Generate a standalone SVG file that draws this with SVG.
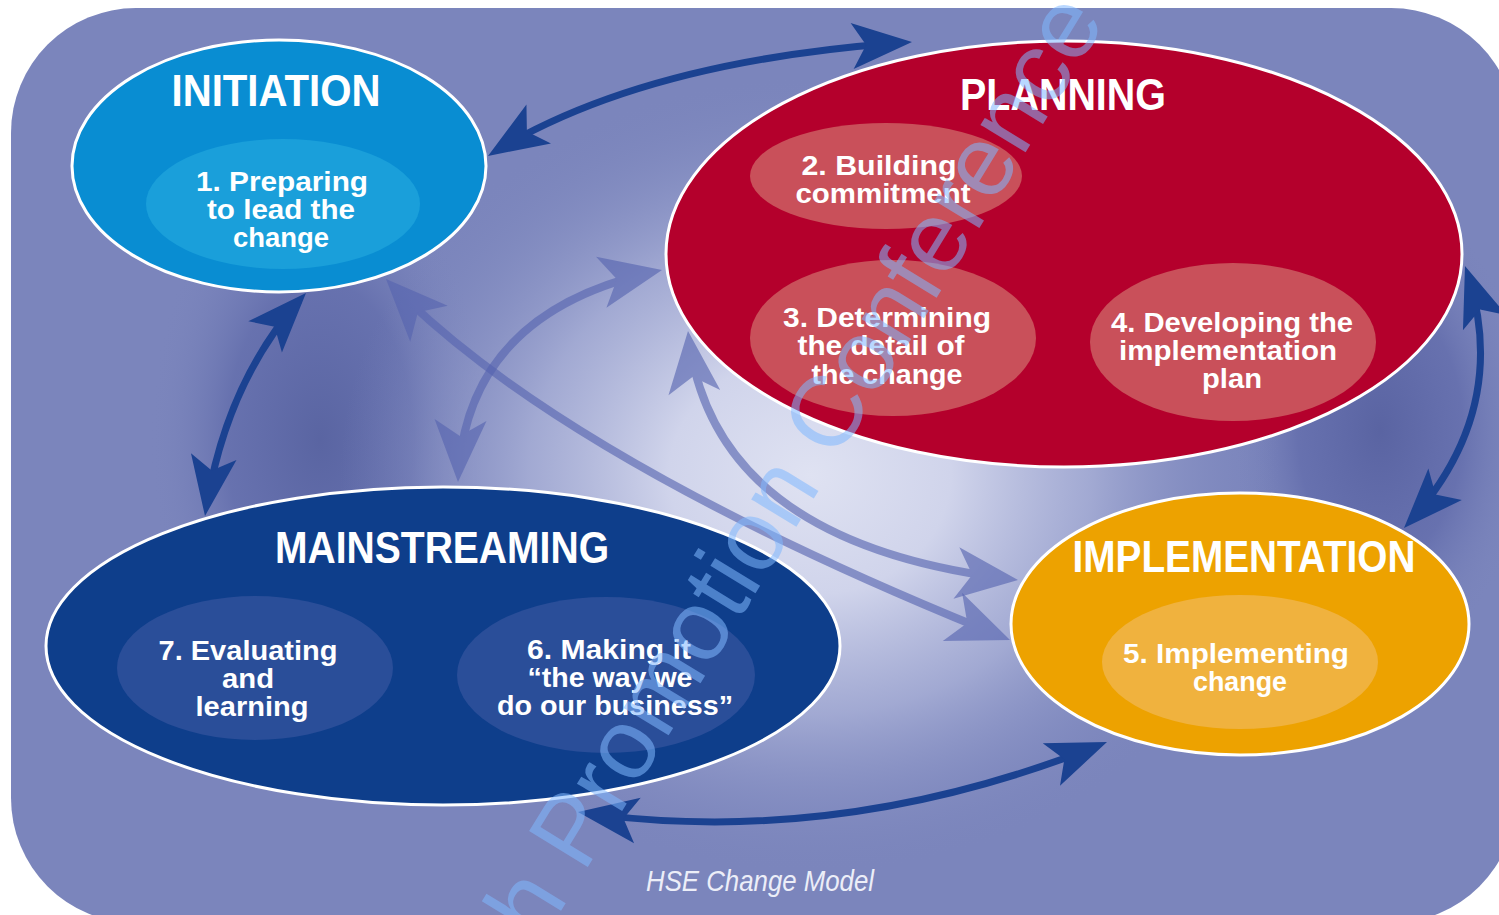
<svg xmlns="http://www.w3.org/2000/svg" width="1499" height="915" viewBox="0 0 1499 915">
  <defs>
    <radialGradient id="lightSpot" gradientUnits="userSpaceOnUse" cx="810" cy="475" r="470" gradientTransform="translate(810 475) scale(1 0.85) translate(-810 -475)">
      <stop offset="0" stop-color="#dfe2f2" stop-opacity="1"/>
      <stop offset="0.3" stop-color="#d0d4eb" stop-opacity="1"/>
      <stop offset="0.6" stop-color="#abb2d8" stop-opacity="0.8"/>
      <stop offset="1" stop-color="#7b85bc" stop-opacity="0"/>
    </radialGradient>
    <radialGradient id="darkLeft" gradientUnits="userSpaceOnUse" cx="320" cy="440" r="170" gradientTransform="translate(320 440) scale(1 1.7) translate(-320 -440)">
      <stop offset="0" stop-color="#56619f" stop-opacity="0.9"/>
      <stop offset="0.55" stop-color="#5a65a6" stop-opacity="0.6"/>
      <stop offset="1" stop-color="#7b85bc" stop-opacity="0"/>
    </radialGradient>
    <radialGradient id="darkRight" gradientUnits="userSpaceOnUse" cx="1380" cy="430" r="150" gradientTransform="translate(1380 430) scale(1 1.6) translate(-1380 -430)">
      <stop offset="0" stop-color="#56609f" stop-opacity="0.9"/>
      <stop offset="0.55" stop-color="#5a64a6" stop-opacity="0.6"/>
      <stop offset="1" stop-color="#7b85bc" stop-opacity="0"/>
    </radialGradient>
    <clipPath id="bgClip">
      <rect x="11" y="8" width="1505" height="915" rx="125" ry="125"/>
    </clipPath>
    <marker id="headDark" markerUnits="userSpaceOnUse" orient="auto-start-reverse" viewBox="-70 -35 80 70" markerWidth="80" markerHeight="70" refX="0" refY="0">
      <path d="M0,0 L-60,-23 L-46,0 L-60,23 Z" fill="#1b4291"/>
    </marker>
    <marker id="headLight" markerUnits="userSpaceOnUse" orient="auto-start-reverse" viewBox="-70 -35 80 70" markerWidth="80" markerHeight="70" refX="0" refY="0">
      <path d="M0,0 L-62,-26 L-46,0 L-62,26 Z" fill="#5664b0"/>
    </marker>
    <style>
      .outer { stroke: #ffffff; stroke-width: 3; }
      .t { font-family: "Liberation Sans", Arial, sans-serif; font-weight: bold; fill: #ffffff; text-anchor: middle; }
      .title { font-size: 44px; }
      .body { font-size: 28px; }
      .dark { fill: none; stroke: #1b4291; stroke-width: 7; marker-start: url(#headDark); marker-end: url(#headDark); }
      .light { fill: none; stroke: #5664b0; stroke-width: 8; opacity: 0.62; marker-start: url(#headLight); marker-end: url(#headLight); }
      .caption { font-family: "Liberation Sans", Arial, sans-serif; font-style: italic; font-size: 30px; fill: #eceef8; text-anchor: middle; }
      .watermark { font-family: "Liberation Sans", Arial, sans-serif; font-size: 100px; fill: #80b8ff; opacity: 0.55; }
    </style>
  </defs>

  <rect x="0" y="0" width="1499" height="915" fill="#ffffff"/>
  <g id="background" clip-path="url(#bgClip)">
    <rect x="11" y="8" width="1505" height="915" fill="#7b85bc"/>
    <rect x="11" y="8" width="1505" height="915" fill="url(#darkLeft)"/>
    <rect x="11" y="8" width="1505" height="915" fill="url(#darkRight)"/>
    <rect x="11" y="8" width="1505" height="915" fill="url(#lightSpot)"/>
  </g>

  <g id="initiation">
    <ellipse class="outer" cx="279" cy="166" rx="207" ry="126" fill="#098dd2"/>
    <ellipse cx="283" cy="204" rx="137" ry="65" fill="#1a9fda"/>
    <text class="t title" x="276" y="106" textLength="209" lengthAdjust="spacingAndGlyphs">INITIATION</text>
    <text class="t body" x="282" y="191" textLength="172" lengthAdjust="spacingAndGlyphs">1. Preparing</text>
    <text class="t body" x="281" y="219" textLength="148" lengthAdjust="spacingAndGlyphs">to lead the</text>
    <text class="t body" x="281" y="247" textLength="96" lengthAdjust="spacingAndGlyphs">change</text>
  </g>

  <g id="planning">
    <ellipse class="outer" cx="1064" cy="254" rx="398" ry="213" fill="#b4002c"/>
    <ellipse cx="886" cy="176" rx="136" ry="53" fill="#c9505a"/>
    <ellipse cx="893" cy="338" rx="143" ry="78" fill="#c9505a"/>
    <ellipse cx="1233" cy="342" rx="143" ry="79" fill="#c9505a"/>
    <text class="t title" x="1063" y="110" textLength="206" lengthAdjust="spacingAndGlyphs">PLANNING</text>
    <text class="t body" x="879" y="175" textLength="155" lengthAdjust="spacingAndGlyphs">2. Building</text>
    <text class="t body" x="883" y="203" textLength="175" lengthAdjust="spacingAndGlyphs">commitment</text>
    <text class="t body" x="887" y="327" textLength="208" lengthAdjust="spacingAndGlyphs">3. Determining</text>
    <text class="t body" x="881" y="355" textLength="167" lengthAdjust="spacingAndGlyphs">the detail of</text>
    <text class="t body" x="887" y="384" textLength="151" lengthAdjust="spacingAndGlyphs">the change</text>
    <text class="t body" x="1232" y="332" textLength="242" lengthAdjust="spacingAndGlyphs">4. Developing the</text>
    <text class="t body" x="1228" y="360" textLength="218" lengthAdjust="spacingAndGlyphs">implementation</text>
    <text class="t body" x="1232" y="388" textLength="60" lengthAdjust="spacingAndGlyphs">plan</text>
  </g>

  <g id="mainstreaming">
    <ellipse class="outer" cx="443" cy="646" rx="397" ry="159" fill="#0e3e8b"/>
    <ellipse cx="255" cy="668" rx="138" ry="72" fill="#2a4e99"/>
    <ellipse cx="606" cy="675" rx="149" ry="78" fill="#2a4e99"/>
    <text class="t title" x="442" y="563" textLength="334" lengthAdjust="spacingAndGlyphs">MAINSTREAMING</text>
    <text class="t body" x="248" y="660" textLength="179" lengthAdjust="spacingAndGlyphs">7. Evaluating</text>
    <text class="t body" x="248" y="688" textLength="52" lengthAdjust="spacingAndGlyphs">and</text>
    <text class="t body" x="252" y="716" textLength="113" lengthAdjust="spacingAndGlyphs">learning</text>
    <text class="t body" x="609" y="659" textLength="164" lengthAdjust="spacingAndGlyphs">6. Making it</text>
    <text class="t body" x="610" y="687" textLength="165" lengthAdjust="spacingAndGlyphs">“the way we</text>
    <text class="t body" x="615" y="715" textLength="236" lengthAdjust="spacingAndGlyphs">do our business”</text>
  </g>

  <g id="implementation">
    <ellipse class="outer" cx="1240" cy="624" rx="229" ry="131" fill="#eda200"/>
    <ellipse cx="1240" cy="662" rx="138" ry="67" fill="#f0b23e"/>
    <text class="t title" x="1244" y="572" textLength="343" lengthAdjust="spacingAndGlyphs">IMPLEMENTATION</text>
    <text class="t body" x="1236" y="663" textLength="226" lengthAdjust="spacingAndGlyphs">5. Implementing</text>
    <text class="t body" x="1240" y="691" textLength="94" lengthAdjust="spacingAndGlyphs">change</text>
  </g>

  <g id="connectors">
    <path class="dark" pathLength="100" stroke-dasharray="0 4 92 4" d="M 488,156 Q 640,60 912,42"/>
    <path class="dark" pathLength="100" stroke-dasharray="0 4 92 4" d="M 306,293 Q 225,380 205,516"/>
    <path class="dark" pathLength="100" stroke-dasharray="0 4 92 4" d="M 1465,266 Q 1515,410 1404,528"/>
    <path class="dark" pathLength="100" stroke-dasharray="0 4 92 4" d="M 578,812 Q 840,850 1107,742"/>
    <path class="light" pathLength="100" stroke-dasharray="0 4 92 4" d="M 386,279 Q 560,460 1010,640"/>
    <path class="light" pathLength="100" stroke-dasharray="0 4 92 4" d="M 662,270 Q 465,310 458,482"/>
    <path class="light" pathLength="100" stroke-dasharray="0 4 92 4" d="M 688,331 Q 710,545 1018,580"/>
  </g>

  <text id="caption" class="caption" x="760" y="891" textLength="228" lengthAdjust="spacingAndGlyphs">HSE Change Model</text>

  <text id="watermark" class="watermark" x="540" y="945" transform="rotate(-58.5 540 945)">h Promotion Conference</text>
</svg>
